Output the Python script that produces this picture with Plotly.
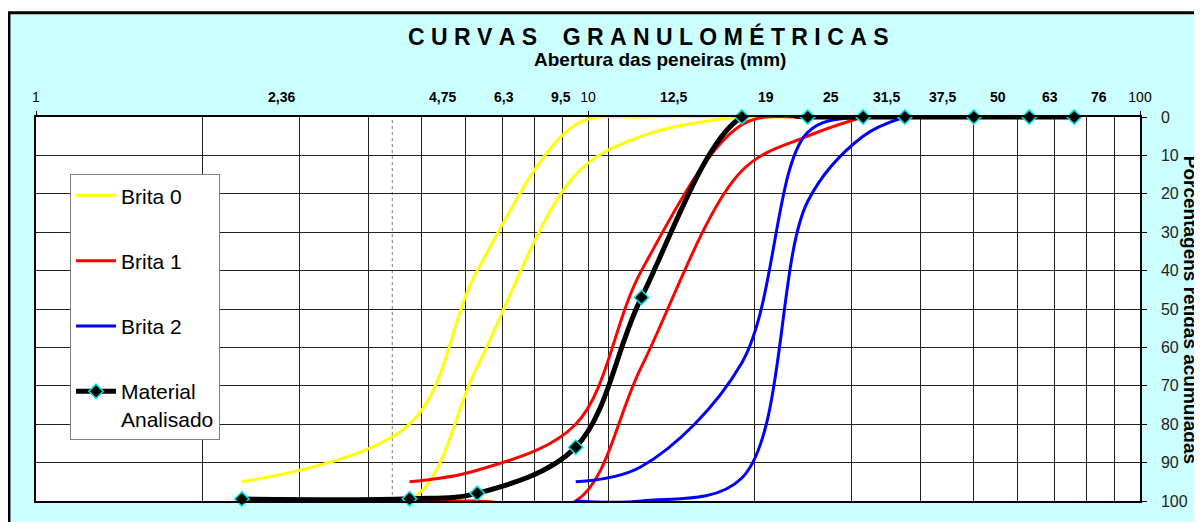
import math
import plotly.graph_objects as go

# peneiras (mm) e porcentagens retidas acumuladas
peneiras = [2.36, 4.75, 6.3, 9.5, 12.5, 19, 25, 31.5, 37.5, 50, 63, 76]
peneira_labels = ["2,36", "4,75", "6,3", "9,5", "12,5", "19", "25", "31,5", "37,5", "50", "63", "76"]
material = [99.5, 99.4, 98, 86, 47, 0, 0, 0, 0, 0, 0, 0]

# limites das zonas granulometricas
b0_peneiras = [2.36, 4.75, 6.3, 9.5, 12.5, 19, 25]
b0_inf = [95, 80, 40, 2, 0, 0, 0]
b0_sup = [100, 100, 65, 15, 5, 0, 0]

b1_peneiras = [4.75, 6.3, 9.5, 12.5, 19, 25, 31.5]
b1_inf = [95, 92, 80, 40, 2, 0, 0]
b1_sup = [100, 100, 100, 65, 14, 5, 0]

b2_peneiras = [9.5, 12.5, 19, 25, 31.5, 37.5]
b2_inf = [95, 91, 64, 4, 0, 0]
b2_sup = [100, 100, 94, 22, 5, 0]

# the sieve labels in the original sheet are loose text boxes, nudged off their sieve
label_shift = [40, 33, 27, -15, 32, 24, 23, 23, 38, 24, 21, 25]

grid_x = [2, 3, 4, 5, 6, 7, 8, 9, 10.9, 20, 30, 40, 50, 60, 70, 80, 90]

FONT = "Liberation Sans, Arial, sans-serif"

fig = go.Figure()

def envelope(x, lo, hi, color, name, group):
    fig.add_trace(go.Scatter(x=x, y=lo, mode="lines", name=name, legendgroup=group,
                             line=dict(color=color, width=3, shape="spline")))
    fig.add_trace(go.Scatter(x=x, y=hi, mode="lines", name=name, legendgroup=group,
                             showlegend=False, line=dict(color=color, width=3, shape="spline")))

envelope(b0_peneiras, b0_inf, b0_sup, "#FFFF00", "Brita 0", "b0")
envelope(b1_peneiras, b1_inf, b1_sup, "#FF0000", "Brita 1", "b1")
envelope(b2_peneiras, b2_inf, b2_sup, "#0000FF", "Brita 2", "b2")

fig.add_trace(go.Scatter(
    x=peneiras, y=material, mode="lines+markers", name="Material<br>Analisado",
    legendgroup="mat", cliponaxis=False,
    line=dict(color="black", width=5, shape="spline"),
    marker=dict(symbol="diamond", size=11, color="black", line=dict(color="#00E5E5", width=1.5)),
))

# sieve labels above the plot (annotation x on a log axis is log10)
for v, t, dx in zip(peneiras, peneira_labels, label_shift):
    fig.add_annotation(x=math.log10(v), xref="x", y=1.0514, yref="paper", text="<b>" + t + "</b>",
                       showarrow=False, xshift=dx, font=dict(family=FONT, size=14, color="black"),
                       xanchor="center", yanchor="middle")

sp = "\u00a0"
title_txt = sp.join("CURVAS") + sp * 4 + sp.join("GRANULOMÉTRICAS")
fig.add_annotation(x=0.554, y=1.2108, xref="paper", yref="paper", text="<b>" + title_txt + "</b>",
                   xanchor="center", yanchor="middle",
                   showarrow=False, font=dict(family=FONT, size=23, color="black"))
fig.add_annotation(x=0.5648, y=1.150, xref="paper", yref="paper", text="<b>Abertura das peneiras (mm)</b>",
                   xanchor="center", yanchor="middle",
                   showarrow=False, font=dict(family=FONT, size=19, color="black"))
fig.add_annotation(x=1.046, y=0.4987, xref="paper", yref="paper", text="<b>Porcentagens retidas acumuladas</b>",
                   xanchor="center", yanchor="middle",
                   textangle=90, showarrow=False, font=dict(family=FONT, size=19, color="black"))

# outer frame + white plotting area
fig.add_shape(type="rect", xref="paper", yref="paper", x0=-0.0245, x1=1.08, y0=-0.1, y1=1.2712,
              fillcolor="#CCFFFF", line=dict(color="black", width=3), layer="below")
fig.add_shape(type="rect", xref="paper", yref="paper", x0=0, x1=1, y0=0, y1=1,
              fillcolor="white", line=dict(width=0), layer="below")
fig.add_shape(type="line", xref="x", yref="paper", x0=4.42, x1=4.42, y0=0, y1=1,
              line=dict(color="#777777", width=1, dash="dot"), layer="below")

fig.update_xaxes(type="log", range=[0, 2], side="top", tickvals=[1, 10, 100], ticktext=["1", "10", "100"],
                 ticks="outside", ticklen=4, tickcolor="black", ticklabelstandoff=4,
                 tickfont=dict(family=FONT, size=14, color="black"),
                 showgrid=True, gridcolor="#222222", gridwidth=1,
                 minor=dict(tickvals=grid_x, showgrid=True, gridcolor="#222222", gridwidth=1, ticks=""),
                 showline=True, linecolor="black", linewidth=1.5, mirror=True, zeroline=False)
fig.update_yaxes(range=[100, 0], side="right", tickvals=list(range(0, 101, 10)),
                 ticks="outside", ticklen=5, tickcolor="black", ticklabelstandoff=11,
                 tickfont=dict(family=FONT, size=16, color="#222222"),
                 showgrid=True, gridcolor="#222222", gridwidth=1,
                 showline=True, linecolor="black", linewidth=1.5, mirror=True, zeroline=False)

# page body keeps its 8px margin, so the figure is 8px smaller than the window
fig.update_layout(
    width=1194, height=514,
    margin=dict(l=28, r=62, t=109, b=16),
    paper_bgcolor="white", plot_bgcolor="white",
    font=dict(family=FONT, color="black"),
    legend=dict(x=0.0308, y=0.851, xanchor="left", yanchor="top",
                bgcolor="white", bordercolor="#808080", borderwidth=1,
                font=dict(family=FONT, size=21, color="black"),
                itemwidth=40, tracegroupgap=35, valign="top"),
)

fig.write_html("out.html")
